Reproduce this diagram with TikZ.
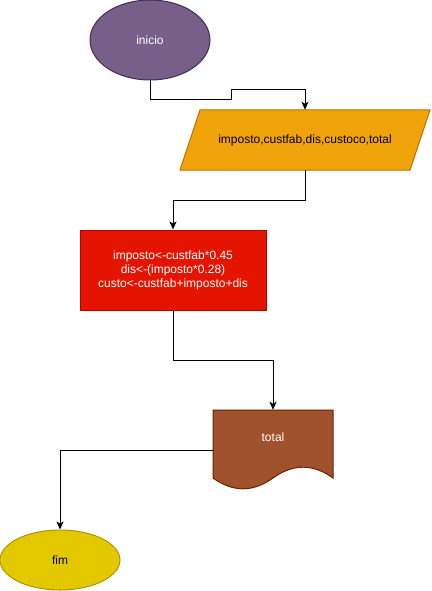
\documentclass[tikz,border=0pt]{standalone}
\usepackage{fontspec}
\setmainfont{Liberation Sans}
\usetikzlibrary{shapes.geometric,arrows.meta}
\definecolor{purfill}{HTML}{76608A}
\definecolor{purline}{HTML}{432D57}
\definecolor{orfill}{HTML}{F0A30A}
\definecolor{orline}{HTML}{BD7000}
\definecolor{redfill}{HTML}{E51400}
\definecolor{redline}{HTML}{B20000}
\definecolor{brfill}{HTML}{A0522D}
\definecolor{brline}{HTML}{6D1F00}
\definecolor{yefill}{HTML}{E3C800}
\definecolor{yeline}{HTML}{B09500}
\tikzset{
  conn/.style={draw=black,line width=1pt,-{Stealth[length=8pt,width=7pt,inset=2pt]}},
  term/.style={ellipse,line width=1pt,inner sep=0pt,font=\fontsize{12}{14}\selectfont},
  lbl/.style={font=\fontsize{12}{14}\selectfont,align=center,inner sep=0pt},
}
\begin{document}
\begin{tikzpicture}[x=1pt,y=-1pt]
\useasboundingbox (0,0) rectangle (431,591);
% inicio
\node[term,draw=purline,fill=purfill,minimum width=120,minimum height=80,text=white] (inicio) at (150,40) {inicio};
% parallelogram
\node[minimum width=230,minimum height=60,inner sep=0pt] (io) at (305,140) {};
\filldraw[draw=orline,fill=orfill,line width=1pt] (200,110) -- (430,110) -- (410,170) -- (180,170) -- cycle;
\node[lbl,text=black] (iotext) at (io.center) {imposto,custfab,dis,custoco,total};
% process
\node[draw=redline,fill=redfill,line width=1pt,minimum width=186,minimum height=80,inner sep=0pt,
  text=white,font=\fontsize{12}{14}\selectfont,align=center] (proc) at (173,270)
  {imposto<-custfab*0.45\\dis<-(imposto*0.28)\\custo<-custfab+imposto+dis};
% document
\node[minimum width=120,minimum height=80,inner sep=0pt] (doc) at (273,450) {};
\filldraw[draw=brline,fill=brfill,line width=1pt] (213,410) -- (333,410) -- (333,478)
  .. controls (313,463.6) and (293,463.6) .. (273,478)
  .. controls (253,492.4) and (233,492.4) .. (213,478) -- cycle;
\node[lbl,text=white] (doctext) at (273,437) {total};
% fim
\node[term,draw=yeline,fill=yefill,minimum width=120,minimum height=60,text=black] (fim) at (60,560) {fim};
% connectors
\draw[conn] (inicio.south) -- (150,100) -- (231,100) -- (231,90) -- (io.north |- 0,90) -- (io.north);
\draw[conn] (305,170) -- (305,200) -- (proc.north |- 0,200) -- (proc.north);
\draw[conn] (proc.south) -- (173,360) -- (doc.north |- 0,360) -- (doc.north);
\draw[conn] (doc.west) -- (60,450) -- (fim.north);
\end{tikzpicture}
\end{document}
